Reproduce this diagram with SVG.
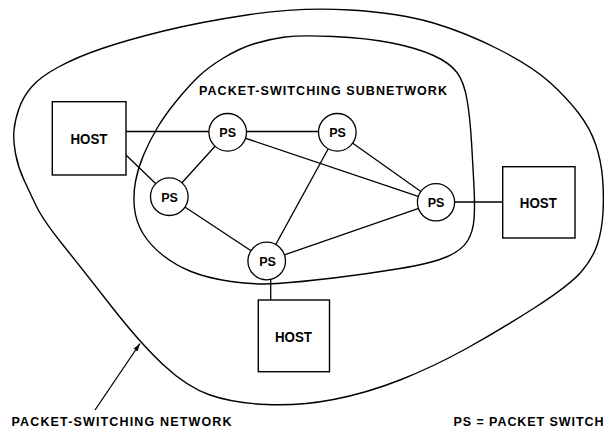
<svg xmlns="http://www.w3.org/2000/svg" width="604" height="434" viewBox="0 0 604 434">
<defs>
<style>
.bound{fill:none;stroke:#000;stroke-width:1.4}
.ln{stroke:#000;stroke-width:1.3;fill:none}
.ps{fill:#fff;stroke:#000;stroke-width:1.3}
.host{fill:#fff;stroke:#000;stroke-width:1.4}
.t{font-family:"Liberation Sans",Arial,sans-serif;font-weight:bold;fill:#000}
.pst{font-size:12.5px;text-anchor:middle}
.ht{font-size:14.5px;text-anchor:middle}
.lbl{font-size:12.5px}
</style>
<marker id="ah" viewBox="0 0 10 10" refX="10" refY="5" markerWidth="8" markerHeight="8" markerUnits="userSpaceOnUse" orient="auto"><path d="M0,2 L10,5 L0,8 Z" fill="#000"/></marker>
</defs>
<rect width="604" height="434" fill="#fff"/>
<g id="network-boundary">
<path class="bound" d="M250,14.5 Q300,7 350,10 Q400,13 433.5,23 Q467,33 500,50 Q533,67 550,82.5 Q567,98 578.5,113 Q590,128 595.5,144 Q601,160 602.5,177.5 Q604,195 603,212.5 Q602,230 597.5,244 Q593,258 581.5,271.5 Q570,285 535,307.5 Q500,330 466.5,348.5 Q433,367 400,380 Q367,393 333.5,399.5 Q300,406 266.5,404.5 Q233,403 210,395 Q187,387 163.5,365 Q140,343 111.5,306.5 Q83,270 63,245 Q43,220 36.5,206.5 Q30,193 24,180 Q18,167 15.5,153.5 Q13,140 14,130 Q15,120 19,108.5 Q23,97 31.5,87 Q40,77 58.5,67 Q77,57 102,48.5 Q127,40 163.5,31 Q200,22 250,14.5 Z"/>
</g>
<g id="subnetwork-boundary">
<path class="bound" d="M285,37 Q300,35 333.5,36.5 Q367,38 392,43 Q417,48 433.5,55.5 Q450,63 457,72.5 Q464,82 467,99.5 Q470,117 471.5,142 Q473,167 474,187 Q475,207 474,219.5 Q473,232 467.5,241 Q462,250 447.5,256.5 Q433,263 400,268.5 Q367,274 333.5,278 Q300,282 277.5,283.5 Q255,285 231,281.5 Q207,278 191,271.5 Q175,265 162.5,255 Q150,245 143,233.5 Q136,222 134.5,208.5 Q133,195 135.5,181.5 Q138,168 144,154 Q150,140 157.5,127.5 Q165,115 176,101.5 Q187,88 197,78 Q207,68 223.5,58 Q240,48 255,43.5 Q270,39 285,37 Z"/>
</g>
<g id="connectors">
<line class="ln" x1="126" y1="131.5" x2="227.7" y2="131.5"/>
<line class="ln" x1="126" y1="155" x2="169.3" y2="196.7"/>
<line class="ln" x1="227.7" y1="131.5" x2="337.3" y2="131.5"/>
<line class="ln" x1="227.7" y1="132.3" x2="169.3" y2="196.7"/>
<line class="ln" x1="227.7" y1="132.3" x2="436" y2="202.3"/>
<line class="ln" x1="337.3" y1="132.3" x2="436" y2="202.3"/>
<line class="ln" x1="337.3" y1="132.3" x2="266.7" y2="261"/>
<line class="ln" x1="169.3" y1="196.7" x2="266.7" y2="261"/>
<line class="ln" x1="436" y1="202.3" x2="266.7" y2="261"/>
<line class="ln" x1="436" y1="202" x2="502.7" y2="202"/>
<line class="ln" x1="270.7" y1="275" x2="270.7" y2="300"/>
<line class="ln" x1="95" y1="410" x2="140" y2="343.5" marker-end="url(#ah)"/>
</g>
<g id="host-left"><rect class="host" x="52.3" y="101.7" width="73.7" height="73.3"/><text class="t ht" x="89" y="144" textLength="37" lengthAdjust="spacingAndGlyphs">HOST</text></g>
<g id="host-right"><rect class="host" x="502.7" y="166.7" width="72.3" height="71.3"/><text class="t ht" x="538.3" y="207.5" textLength="37" lengthAdjust="spacingAndGlyphs">HOST</text></g>
<g id="host-bottom"><rect class="host" x="258.3" y="300" width="71.2" height="71.7"/><text class="t ht" x="293.5" y="341.7" textLength="37" lengthAdjust="spacingAndGlyphs">HOST</text></g>
<g id="ps1"><circle class="ps" cx="227.7" cy="132.3" r="18.8"/><text class="t pst" x="227.7" y="136.8">PS</text></g>
<g id="ps2"><circle class="ps" cx="337.3" cy="132.3" r="18.8"/><text class="t pst" x="337.5" y="136.8">PS</text></g>
<g id="ps3"><circle class="ps" cx="169.3" cy="196.7" r="18.8"/><text class="t pst" x="169.5" y="201.6">PS</text></g>
<g id="ps4"><circle class="ps" cx="436" cy="202.3" r="18.6"/><text class="t pst" x="436" y="207.3">PS</text></g>
<g id="ps5"><circle class="ps" cx="266.7" cy="261" r="18.8"/><text class="t pst" x="267.5" y="266">PS</text></g>
<g id="labels">
<text class="t lbl" x="199" y="94.7" textLength="248" lengthAdjust="spacing">PACKET-SWITCHING SUBNETWORK</text>
<text class="t lbl" x="11.5" y="425.8" textLength="220" lengthAdjust="spacing">PACKET-SWITCHING NETWORK</text>
<text class="t lbl" x="453.5" y="426.2" textLength="150" lengthAdjust="spacing">PS = PACKET SWITCH</text>
</g>
</svg>
